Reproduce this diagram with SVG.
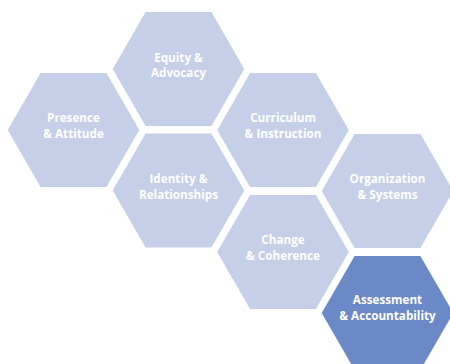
<svg xmlns="http://www.w3.org/2000/svg" xmlns:xlink="http://www.w3.org/1999/xlink" width="450" height="364" viewBox="0 0 450 364">
  <style>
    .hex { fill: #C5CFE7; }
    .hex-dark { fill: #6B89C6; }
    .lbl { font-family: "Open Sans", "Liberation Sans", sans-serif; font-weight: 700; font-size: 11.7px; fill: #FFFFFF; text-anchor: middle; }
  </style>
  <defs>
    <polygon id="hex" points="-65.8,0 -32.9,-57 32.9,-57 65.8,0 32.9,57 -32.9,57"/>
  </defs>
  <rect width="450" height="364" fill="#FFFFFF"/>
  <g id="connectors"></g>
  <g id="presence" transform="translate(73.5,130)">
    <use xlink:href="#hex" class="hex"/>
    <text class="lbl" x="0" y="-8">Presence</text>
    <text class="lbl" x="0" y="8">&amp; Attitude</text>
  </g>
  <g id="equity" transform="translate(178.5,69)">
    <use xlink:href="#hex" class="hex"/>
    <text class="lbl" x="0" y="-7">Equity &amp;</text>
    <text class="lbl" x="0" y="8">Advocacy</text>
  </g>
  <g id="curriculum" transform="translate(283,130)">
    <use xlink:href="#hex" class="hex"/>
    <text class="lbl" x="0" y="-8">Curriculum</text>
    <text class="lbl" x="0" y="8">&amp; Instruction</text>
  </g>
  <g id="identity" transform="translate(178.5,190.5)">
    <use xlink:href="#hex" class="hex"/>
    <text class="lbl" x="0" y="-8">Identity &amp;</text>
    <text class="lbl" x="0" y="8">Relationships</text>
  </g>
  <g id="organization" transform="translate(387.5,191)">
    <use xlink:href="#hex" class="hex"/>
    <text class="lbl" x="0" y="-8">Organization</text>
    <text class="lbl" x="0" y="8">&amp; Systems</text>
  </g>
  <g id="change" transform="translate(283,252)">
    <use xlink:href="#hex" class="hex"/>
    <text class="lbl" x="0" y="-8">Change</text>
    <text class="lbl" x="0" y="8">&amp; Coherence</text>
  </g>
  <g id="assessment" transform="translate(387.5,313)">
    <use xlink:href="#hex" class="hex-dark"/>
    <text class="lbl" x="0" y="-9">Assessment</text>
    <text class="lbl" x="0" y="7">&amp; Accountability</text>
  </g>
</svg>
